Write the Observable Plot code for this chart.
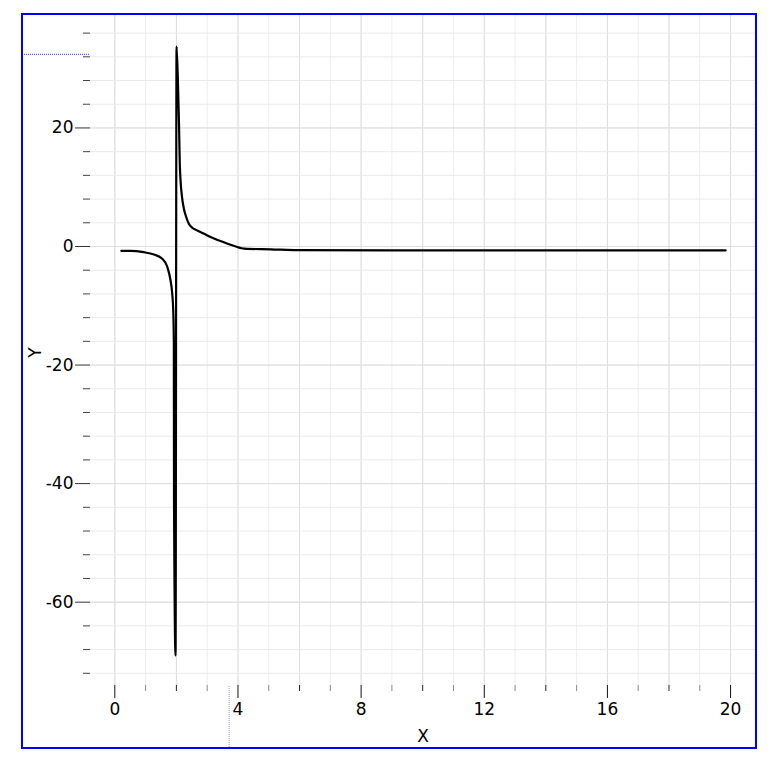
<!DOCTYPE html>
<html>
<head>
<meta charset="utf-8">
<script src="https://cdn.jsdelivr.net/npm/d3@7"></script>
<script src="https://cdn.jsdelivr.net/npm/@observablehq/plot@0.6"></script>
<style>
  body { margin: 0; background: #fff; }
  #wrap { position: relative; width: 776px; height: 768px; }
  #frame { position: absolute; left: 21px; top: 13px; width: 736px; height: 736px; box-sizing: border-box; border: 2px solid #0000ff; pointer-events: none; }
  #chart { position: absolute; left: 0; top: 0; }
</style>
</head>
<body>
<div id="wrap"><div id="chart"></div><div id="frame"></div></div>
<script>
// Curve samples
const xs = [0.21, 0.51, 0.94, 1.27, 1.54, 1.70, 1.81, 1.865, 1.897, 1.917, 1.923, 1.972,
            2.005, 2.053, 2.086, 2.109, 2.135, 2.177, 2.242, 2.313, 2.404, 2.524, 2.677, 2.882,
            3.109, 3.337, 3.541, 3.759, 3.977, 4.116, 4.301, 5.06, 5.93, 12.53, 19.84];
const ys = [-0.73, -0.73, -0.96, -1.35, -2.07, -3.37, -5.74, -7.98, -10.8, -16.2, -42.7, -69.0,
            33.74, 27.16, 20.41, 14.17, 11.13, 8.60, 6.41, 5.06, 3.83, 3.12, 2.70, 2.19,
            1.60, 1.10, 0.73, 0.29, -0.08, -0.29, -0.39, -0.47, -0.61, -0.65, -0.65];

// Axes
const xDomain = [-0.79, 20.81];
const yDomain = [-74.06, 38.97];
const xMajorTicks = [0, 4, 8, 12, 16, 20];
const xMinorTicks = [1, 2, 3, 5, 6, 7, 9, 10, 11, 13, 14, 15, 17, 18, 19];
const xGridMinor = [0, 1, 2, 3, 4, 5, 6, 7, 8, 9, 10, 11, 12, 13, 14, 15, 16, 17, 18, 19, 20];
const xGridMajor = [0, 2, 4, 6, 8, 10, 12, 14, 16, 18, 20];
const yMajorTicks = [-60, -40, -20, 0, 20];
const yMinorTicks = [-72, -68, -64, -56, -52, -48, -44, -36, -32, -28, -24, -16, -12, -8, -4, 4, 8, 12, 16, 24, 28, 32, 36];
const yGrid = [-72, -68, -64, -60, -56, -52, -48, -44, -40, -36, -32, -28, -24, -20, -16, -12, -8, -4, 0, 4, 8, 12, 16, 20, 24, 28, 32, 36];
const xLabel = "X";
const yLabel = "Y";

// Cursor crosshair position
const cursorX = 3.73;
const cursorY = 32.34;

const points = xs.map((x, i) => ({x, y: ys[i]}));
const fmt = d => String(d);
const FONT = "'DejaVu Sans', Verdana, sans-serif";
const FS = 17;

const plot = Plot.plot({
  width: 776,
  height: 768,
  marginLeft: 90,
  marginRight: 21,
  marginTop: 15,
  marginBottom: 83,
  x: {domain: xDomain},
  y: {domain: yDomain},
  style: {fontFamily: FONT, fontSize: FS + "px", color: "#000", background: "transparent"},
  marks: [
    Plot.gridX(xGridMinor, {stroke: "#eeeeee", strokeOpacity: 1}),
    Plot.gridX(xGridMajor, {stroke: "#dddddd", strokeOpacity: 1}),
    Plot.gridY(yGrid, {stroke: "#eaeaea", strokeOpacity: 1}),
    Plot.gridY(yMajorTicks, {stroke: "#dddddd", strokeOpacity: 1}),
    Plot.axisX(xMinorTicks.filter(t => t % 2 === 1), {tickSize: 6, tickFormat: () => "", label: null, stroke: "#888"}),
    Plot.axisX(xMinorTicks.filter(t => t % 2 === 0), {tickSize: 6, tickFormat: () => "", label: null, stroke: "#222"}),
    Plot.axisX(xMajorTicks, {tickSize: 13, tickPadding: 4, tickFormat: fmt, label: null, stroke: "#111", fill: "#000", fontSize: FS, fontFamily: FONT}),
    Plot.axisY(yMinorTicks, {tickSize: 7, tickFormat: () => "", label: null, stroke: "#444"}),
    Plot.axisY(yMajorTicks, {tickSize: 15, tickPadding: 2, tickFormat: fmt, label: null, stroke: "#333", fill: "#000", fontSize: FS, fontFamily: FONT}),
    Plot.text([xLabel], {frameAnchor: "bottom", dy: 51.5, lineAnchor: "middle", textAnchor: "middle", fill: "#000", fontSize: FS, fontFamily: FONT}),
    Plot.text([yLabel], {frameAnchor: "left", dx: -55, dy: 2, rotate: -90, lineAnchor: "middle", textAnchor: "middle", fill: "#000", fontSize: FS, fontFamily: FONT}),
    Plot.line(points, {x: "x", y: "y", stroke: "#000", strokeWidth: 2.2, curve: "monotone-x"})
  ]
});

document.getElementById("chart").appendChild(plot);

// Cursor crosshair markers in the margins
const svg = d3.select(plot);
const cy = plot.scale("y").apply(cursorY);
const cx = plot.scale("x").apply(cursorX);
svg.append("line")
  .attr("x1", 22).attr("x2", 89)
  .attr("y1", cy).attr("y2", cy)
  .attr("stroke", "#3a3aff").attr("stroke-width", 1).attr("stroke-dasharray", "1,1");
svg.append("line")
  .attr("x1", cx).attr("x2", cx)
  .attr("y1", 686).attr("y2", 747)
  .attr("stroke", "#9a9aff").attr("stroke-width", 1).attr("stroke-dasharray", "1,1");
</script>
</body>
</html>
